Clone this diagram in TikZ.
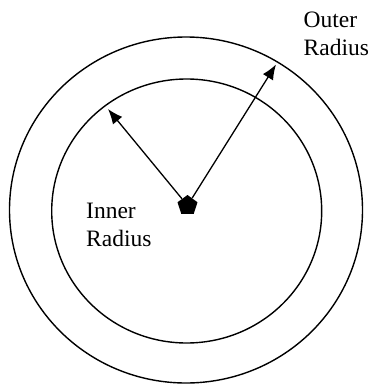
\documentclass[tikz,border=0pt]{standalone}
\usepackage{fontspec}
\setmainfont{Liberation Serif}
\usetikzlibrary{arrows.meta}
\usetikzlibrary{shapes.geometric}

\begin{document}
\begin{tikzpicture}[x=1pt,y=-1pt,
    ring/.style={line width=1.4pt},
    radiusarrow/.style={line width=1.3pt,-{Latex[length=15pt,width=12pt]}},
    hub/.style={regular polygon,regular polygon sides=5,fill=black,inner sep=0pt,minimum size=21pt},
    radiuslabel/.style={align=left,inner sep=0pt,font=\fontsize{23.5}{28}\selectfont}]
			\useasboundingbox (0,0) rectangle (370,386);
			\draw[ring] (186,210) ellipse (176.5 and 173);
			\draw[ring] (186.7,211) ellipse (135 and 132);
			\node[hub] (hub) at (187.5,205.5) {};
			\coordinate (innertip) at (108,109);
			\coordinate (outertip) at (276,64.5);
			\draw[radiusarrow] (hub) -- (innertip);
			\draw[radiusarrow] (hub) -- (outertip);
			\node[radiuslabel,anchor=north west] (innerlabel) at (86,203) {Inner\\Radius};
			\node[radiuslabel,anchor=north west] (outerlabel) at (303.5,12) {Outer\\Radius};
		\end{tikzpicture}
\end{document}
